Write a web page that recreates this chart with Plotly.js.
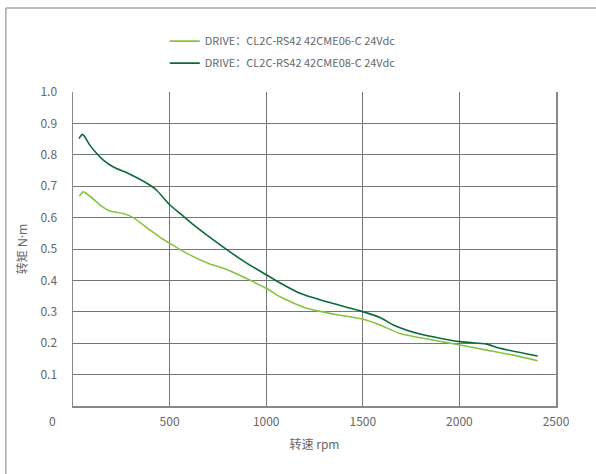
<!DOCTYPE html>
<html>
<head>
<meta charset="utf-8">
<script src="https://cdn.plot.ly/plotly-3.0.1.min.js"></script>
<style>html,body{margin:0;padding:0;background:#fff;}#chart{width:596px;height:474px;}</style>
</head>
<body>
<div id="chart"></div>
<script>
const seriesNames = ["DRIVE：CL2C-RS42 42CME06-C 24Vdc", "DRIVE：CL2C-RS42 42CME08-C 24Vdc"];
const speed06 = [33, 53, 88, 140, 192, 260, 312, 399, 451, 502, 589, 709, 796, 899, 1003, 1071, 1209, 1347, 1503, 1589, 1692, 1848, 2003, 2141, 2279, 2405];
const torque06 = [0.668, 0.682, 0.668, 0.640, 0.621, 0.613, 0.600, 0.560, 0.537, 0.518, 0.486, 0.452, 0.435, 0.406, 0.374, 0.348, 0.311, 0.293, 0.276, 0.258, 0.231, 0.212, 0.194, 0.178, 0.162, 0.144];
const speed08 = [31, 50, 88, 123, 157, 209, 295, 399, 433, 502, 560, 624, 709, 796, 899, 1003, 1063, 1175, 1313, 1486, 1589, 1658, 1796, 2003, 2141, 2210, 2405];
const torque08 = [0.852, 0.865, 0.830, 0.804, 0.783, 0.761, 0.738, 0.703, 0.687, 0.640, 0.610, 0.577, 0.537, 0.498, 0.455, 0.417, 0.395, 0.359, 0.332, 0.303, 0.282, 0.258, 0.229, 0.205, 0.197, 0.184, 0.159];
const xTicks = [500, 1000, 1500, 2000, 2500];
const yTicks = [0.1, 0.2, 0.3, 0.4, 0.5, 0.6, 0.7, 0.8, 0.9, 1.0];
const xTitle = "转速 rpm";
const yTitle = "转矩 N·m";

const font = "Noto Sans CJK SC, Noto Sans, sans-serif";
const traces = [
  {x: speed06, y: torque06, name: seriesNames[0], legend: "legend", mode: "lines", line: {color: "#86c440", width: 1.6, shape: "spline", smoothing: 0.6}},
  {x: speed08, y: torque08, name: seriesNames[1], legend: "legend2", mode: "lines", line: {color: "#0b6a3a", width: 1.6, shape: "spline", smoothing: 0.6}}
];
const legendBase = {xanchor: "left", yanchor: "middle", orientation: "v",
  font: {family: font, size: 11, color: "#666"}, bgcolor: "rgba(0,0,0,0)", borderwidth: 0};
const layout = {
  width: 596, height: 474,
  margin: {l: 73, r: 40, t: 92, b: 68},
  paper_bgcolor: "#fff", plot_bgcolor: "#fff",
  font: {family: font, color: "#666", size: 12},
  showlegend: true,
  legend: Object.assign({}, legendBase, {x: 0.19, y: 1.162}),
  legend2: Object.assign({}, legendBase, {x: 0.19, y: 1.092}),
  xaxis: {range: [0, 2500], tickvals: xTicks, ticktext: xTicks.map(String), showgrid: true, gridcolor: "#777", gridwidth: 1,
          showline: true, linecolor: "#888", linewidth: 1.5, mirror: false, zeroline: false, ticks: "", ticklen: 0,
          ticklabelstandoff: 4,
          tickfont: {family: font, size: 12, color: "#666"},
          title: {text: xTitle, font: {family: font, size: 12, color: "#666"}, standoff: 12}},
  yaxis: {range: [0, 1.0], tickvals: yTicks, ticktext: yTicks.map(v => v.toFixed(1)), showgrid: true, gridcolor: "#777", gridwidth: 1,
          showline: true, linecolor: "#888", linewidth: 1.5, mirror: true, zeroline: false, ticks: "", ticklen: 0,
          ticklabelstandoff: 12,
          tickfont: {family: font, size: 12, color: "#666"},
          title: {text: yTitle, font: {family: "Noto Sans, Noto Sans CJK SC, sans-serif", size: 12, color: "#666"}, standoff: 10}},
  annotations: [
    {text: "0", xref: "paper", yref: "paper", x: -0.043, y: -0.045, showarrow: false, xanchor: "center", yanchor: "middle",
     font: {family: font, size: 12, color: "#666"}}
  ],
  shapes: [
    {type: "line", xref: "paper", yref: "paper", x0: -0.139, x1: 1.2, y0: 1.2675, y1: 1.2675, line: {color: "#aaa", width: 1.5}},
    {type: "line", xref: "paper", yref: "paper", x0: -0.139, x1: -0.139, y0: 1.2675, y1: -0.3, line: {color: "#aaa", width: 1.5}}
  ]
};
Plotly.newPlot("chart", traces, layout, {displayModeBar: false, staticPlot: true});
</script>
</body>
</html>
